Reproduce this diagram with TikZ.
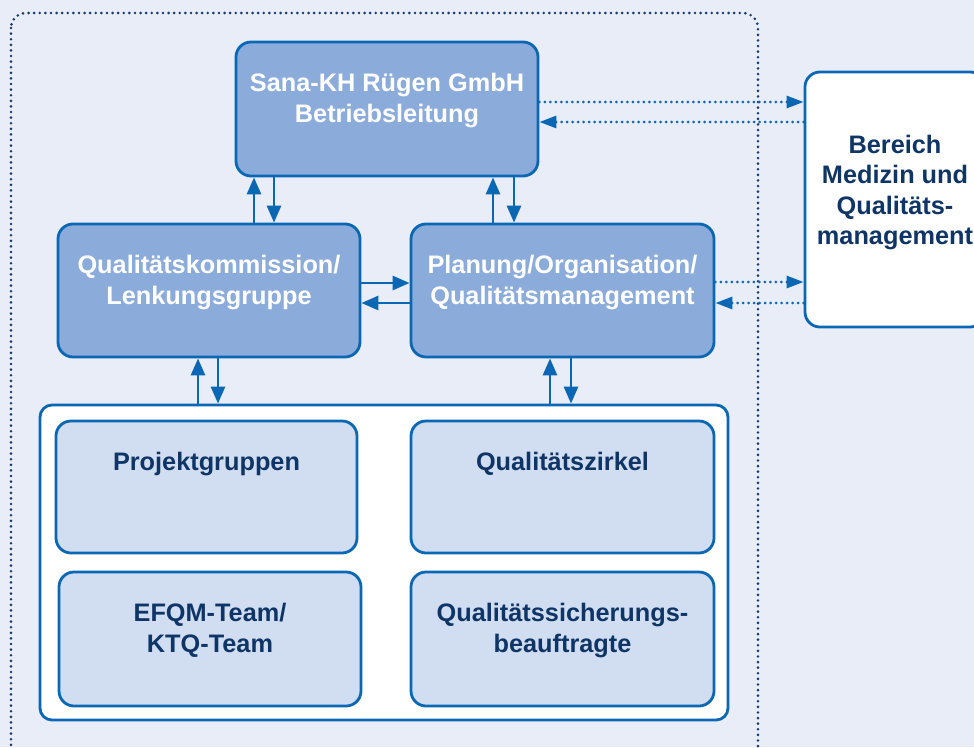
\documentclass[tikz,border=0pt]{standalone}
\usepackage{fontspec}
\setmainfont{Liberation Sans}
\usetikzlibrary{arrows.meta}
\definecolor{bgblue}{HTML}{E8EDF8}
\definecolor{midblue}{HTML}{8BACDB}
\definecolor{lightblue}{HTML}{D1DDF1}
\definecolor{edgeblue}{HTML}{0A67B4}
\definecolor{navy}{HTML}{0F3567}
\definecolor{dotnavy}{HTML}{173A70}
\tikzset{
  box/.style={draw=edgeblue, line width=2.8pt, rounded corners=15pt, inner sep=0pt},
  midbox/.style={box, fill=midblue},
  litebox/.style={box, fill=lightblue},
  whitebox/.style={box, fill=white},
  lbl/.style={align=center, inner sep=0pt, font=\bfseries\fontsize{25.3}{30.5}\selectfont},
  wlbl/.style={lbl, text=white},
  dlbl/.style={lbl, text=navy},
  arr/.style={draw=edgeblue, line width=2.8pt, -{Triangle[length=17pt,width=14pt]}},
  dotarr/.style={draw=edgeblue, line width=2.9pt, dash pattern=on 0pt off 5.5pt, line cap=round,
    -{Triangle[length=17pt,width=12pt]}},
}
\begin{document}
\begin{tikzpicture}[x=1pt, y=-1pt]
  \useasboundingbox (0,0) rectangle (974,747);
  \clip (0,0) rectangle (974,747);
  \fill[bgblue] (0,0) rectangle (974,747);

  % dotted frame of the hospital unit
  \draw[dotnavy, line width=2.9pt, dash pattern=on 0pt off 5.6pt, line cap=round, rounded corners=15pt]
    (11,13) rectangle (758,790);

  % management boxes
  \node[midbox, minimum width=302pt, minimum height=134pt] (top) at (387,109) {};
  \node[midbox, minimum width=302pt, minimum height=133pt] (lk) at (209,290.5) {};
  \node[midbox, minimum width=303pt, minimum height=133pt] (pl) at (562.5,290.5) {};

  % container of the working groups
  \node[whitebox, rounded corners=12pt, minimum width=688pt, minimum height=315pt] (cont) at (384,562.5) {};
  \node[litebox, minimum width=301pt, minimum height=132pt] (pg) at (206.5,487) {};
  \node[litebox, minimum width=303pt, minimum height=132pt] (qz) at (562.5,487) {};
  \node[litebox, minimum width=302pt, minimum height=134pt] (ef) at (210,639) {};
  \node[litebox, minimum width=303pt, minimum height=134pt] (qs) at (562.5,639) {};

  % external department
  \node[whitebox, minimum width=180pt, minimum height=255pt] (ber) at (895,199.5) {};

  % labels
  \node[wlbl] (topT) at (387,100.5) {Sana-KH Rügen GmbH\\Betriebsleitung};
  \node[wlbl] (lkT) at (209,282.5) {Qualitätskommission/\\Lenkungsgruppe};
  \node[wlbl] (plT) at (562.5,282.5) {Planung/Organisation/\\Qualitätsmanagement};
  \node[dlbl] (pgT) at (206.5,464) {Projektgruppen};
  \node[dlbl] (qzT) at (562.5,464) {Qualitätszirkel};
  \node[dlbl] (efT) at (210,630.5) {EFQM-Team/\\KTQ-Team};
  \node[dlbl] (qsT) at (562.5,630.5) {Qualitätssicherungs-\\beauftragte};
  \node[dlbl] (berT) at (895,192.5) {Bereich\\Medizin und\\Qualitäts-\\management};

  % Betriebsleitung <-> Lenkungsgruppe / Qualitätsmanagement
  \draw[arr] ([xshift=45pt]lk.north) -- ([xshift=-133pt]top.south);
  \draw[arr] ([xshift=-113pt]top.south) -- ([xshift=65pt]lk.north);
  \draw[arr] ([xshift=-69.5pt]pl.north) -- ([xshift=106pt]top.south);
  \draw[arr] ([xshift=127pt]top.south) -- ([xshift=-48.5pt]pl.north);

  % Lenkungsgruppe <-> Qualitätsmanagement
  \draw[arr] ([yshift=7.5pt]lk.east) -- ([yshift=7.5pt]pl.west);
  \draw[arr] ([yshift=-12.5pt]pl.west) -- ([yshift=-12.5pt]lk.east);

  % groups <-> management
  \draw[arr] ([xshift=-186pt]cont.north) -- ([xshift=-11pt]lk.south);
  \draw[arr] ([xshift=9pt]lk.south) -- ([xshift=-166pt]cont.north);
  \draw[arr] ([xshift=166pt]cont.north) -- ([xshift=-12.5pt]pl.south);
  \draw[arr] ([xshift=8.5pt]pl.south) -- ([xshift=187pt]cont.north);

  % dotted links to the external department
  \coordinate (t1) at ([yshift=7pt]top.east);
  \coordinate (t2) at ([yshift=-13pt]top.east);
  \coordinate (p1) at ([yshift=8.5pt]pl.east);
  \coordinate (p2) at ([yshift=-12.5pt]pl.east);
  \draw[dotarr] (t1) -- (t1 -| ber.west);
  \draw[dotarr] (t2 -| ber.west) -- (t2);
  \draw[dotarr] (p1) -- (p1 -| ber.west);
  \draw[dotarr] (p2 -| ber.west) -- (p2);
\end{tikzpicture}
\end{document}
